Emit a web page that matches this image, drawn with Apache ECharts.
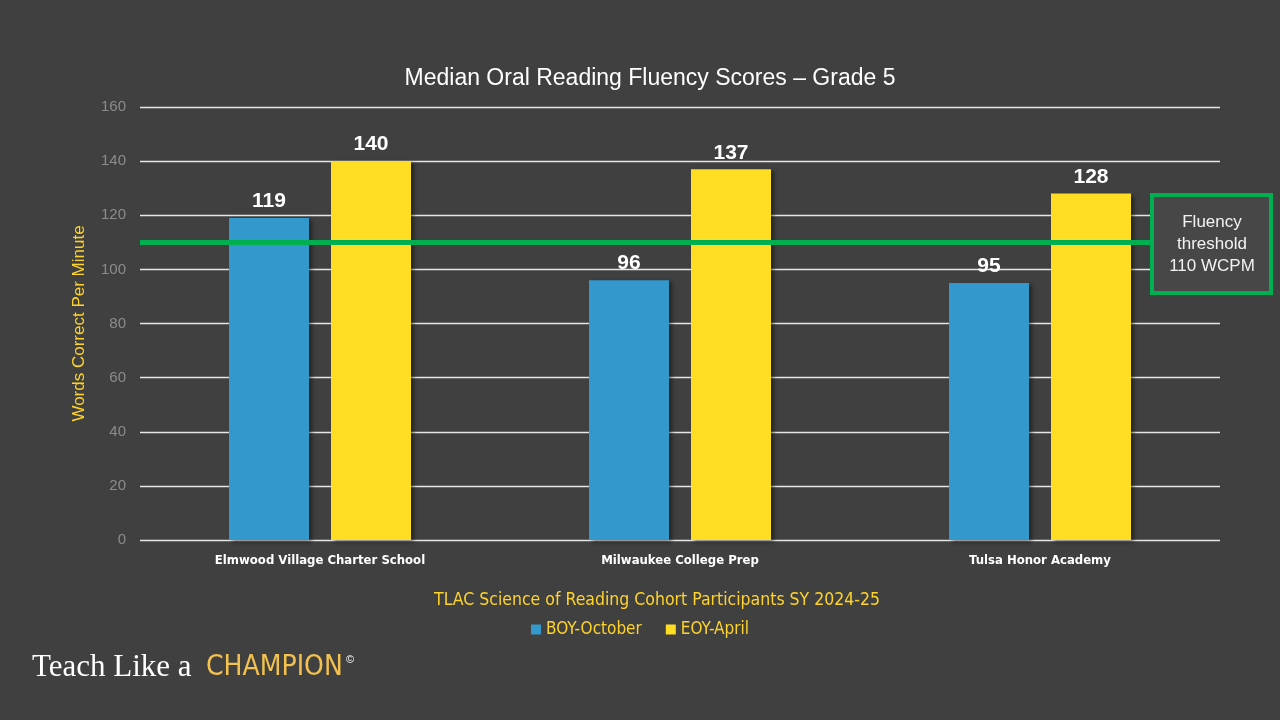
<!DOCTYPE html>
<html>
<head>
<meta charset="utf-8">
<script src="https://cdn.jsdelivr.net/npm/echarts@6/dist/echarts.min.js"></script>
<style>
  html, body { margin: 0; padding: 0; background: #404040; }
  #chart { width: 1280px; height: 720px; }
</style>
</head>
<body>
<div id="chart"></div>
<script>
const schools = ['Elmwood Village Charter School', 'Milwaukee College Prep', 'Tulsa Honor Academy']
const boyOctober = [119, 96, 95]
const eoyApril = [140, 137, 128]
const fluencyThreshold = 110
const yTicks = { min: 0, max: 160, interval: 20 }

const narrow = '"Liberation Sans Narrow", "DejaVu Sans Condensed", sans-serif'
const plain = '"Liberation Sans", Arial, sans-serif'

const chart = echarts.init(document.getElementById('chart'))

const barStyle = color => ({
  color: color,
  shadowColor: 'rgba(0,0,0,0.45)',
  shadowBlur: 4,
  shadowOffsetX: 3,
  shadowOffsetY: 2
})

const barLabel = {
  show: true,
  position: 'top',
  distance: 6,
  color: '#ffffff',
  fontSize: 21,
  fontWeight: 'bold',
  fontFamily: plain
}

chart.setOption({
  backgroundColor: '#404040',
  animation: false,
  title: {
    text: 'Median Oral Reading Fluency Scores \u2013 Grade 5',
    left: 645,
    top: 62,
    textAlign: 'center',
    textStyle: { color: '#ffffff', fontSize: 23, fontWeight: 'normal', fontFamily: plain }
  },
  legend: {
    data: ['BOY-October', 'EOY-April'],
    top: 616,
    left: 'center',
    icon: 'rect',
    itemWidth: 10,
    itemHeight: 10,
    itemGap: 24,
    textStyle: { color: '#FFD42A', fontSize: 17, fontFamily: narrow }
  },
  grid: { left: 140, right: 60, top: 107, bottom: 180 },
  xAxis: {
    type: 'category',
    data: schools,
    axisLine: { show: false },
    axisTick: { show: false },
    axisLabel: { color: '#ffffff', fontSize: 13, fontWeight: 'bold', fontFamily: narrow, margin: 14 }
  },
  yAxis: {
    type: 'value',
    min: yTicks.min,
    max: yTicks.max,
    interval: yTicks.interval,
    name: 'Words Correct Per Minute',
    nameLocation: 'middle',
    nameGap: 52,
    nameTextStyle: { color: '#FFD42A', fontSize: 17, fontFamily: plain },
    axisLine: { show: false },
    axisTick: { show: false },
    axisLabel: { color: '#8c8c8c', fontSize: 15, fontFamily: plain, margin: 14 },
    splitLine: { lineStyle: { color: '#e6e6e6', width: 1.3 } }
  },
  series: [
    {
      name: 'BOY-October',
      type: 'bar',
      data: boyOctober,
      barWidth: 80,
      barGap: '27.5%',
      itemStyle: barStyle('#3399CC'),
      label: barLabel,
      markLine: {
        silent: true,
        symbol: 'none',
        label: { show: false },
        lineStyle: { color: '#00B050', width: 5, type: 'solid' },
        data: [{ yAxis: fluencyThreshold }]
      },
      z: 2
    },
    {
      name: 'EOY-April',
      type: 'bar',
      data: eoyApril,
      barWidth: 80,
      itemStyle: barStyle('#FFDD22'),
      label: barLabel,
      z: 2
    }
  ],
  graphic: [
    {
      type: 'rect',
      shape: { x: 1152, y: 195, width: 119, height: 98 },
      style: { fill: '#474747', stroke: '#00B050', lineWidth: 4 },
      z: 100
    },
    {
      type: 'text',
      x: 1212,
      y: 244,
      style: {
        text: 'Fluency\nthreshold\n110 WCPM',
        fill: '#f2f2f2',
        font: '17px ' + plain,
        lineHeight: 22,
        align: 'center',
        verticalAlign: 'middle'
      },
      z: 101
    },
    {
      type: 'text',
      x: 657,
      y: 600,
      style: {
        text: 'TLAC Science of Reading Cohort Participants SY 2024-25',
        fill: '#FFD42A',
        font: '17.5px ' + narrow,
        align: 'center',
        verticalAlign: 'middle'
      }
    },
    {
      type: 'text',
      x: 32,
      y: 668,
      style: {
        text: 'Teach Like a',
        fill: '#ffffff',
        font: '31px "Liberation Serif", "DejaVu Serif", serif',
        verticalAlign: 'middle'
      }
    },
    {
      type: 'text',
      x: 206,
      y: 668,
      style: {
        text: 'CHAMPION',
        fill: '#F2C14E',
        font: '28px ' + narrow,
        verticalAlign: 'middle'
      }
    },
    {
      type: 'text',
      x: 346,
      y: 660,
      style: {
        text: '\u00A9',
        fill: '#ffffff',
        font: '11px ' + plain,
        verticalAlign: 'middle'
      }
    }
  ]
})
</script>
</body>
</html>
